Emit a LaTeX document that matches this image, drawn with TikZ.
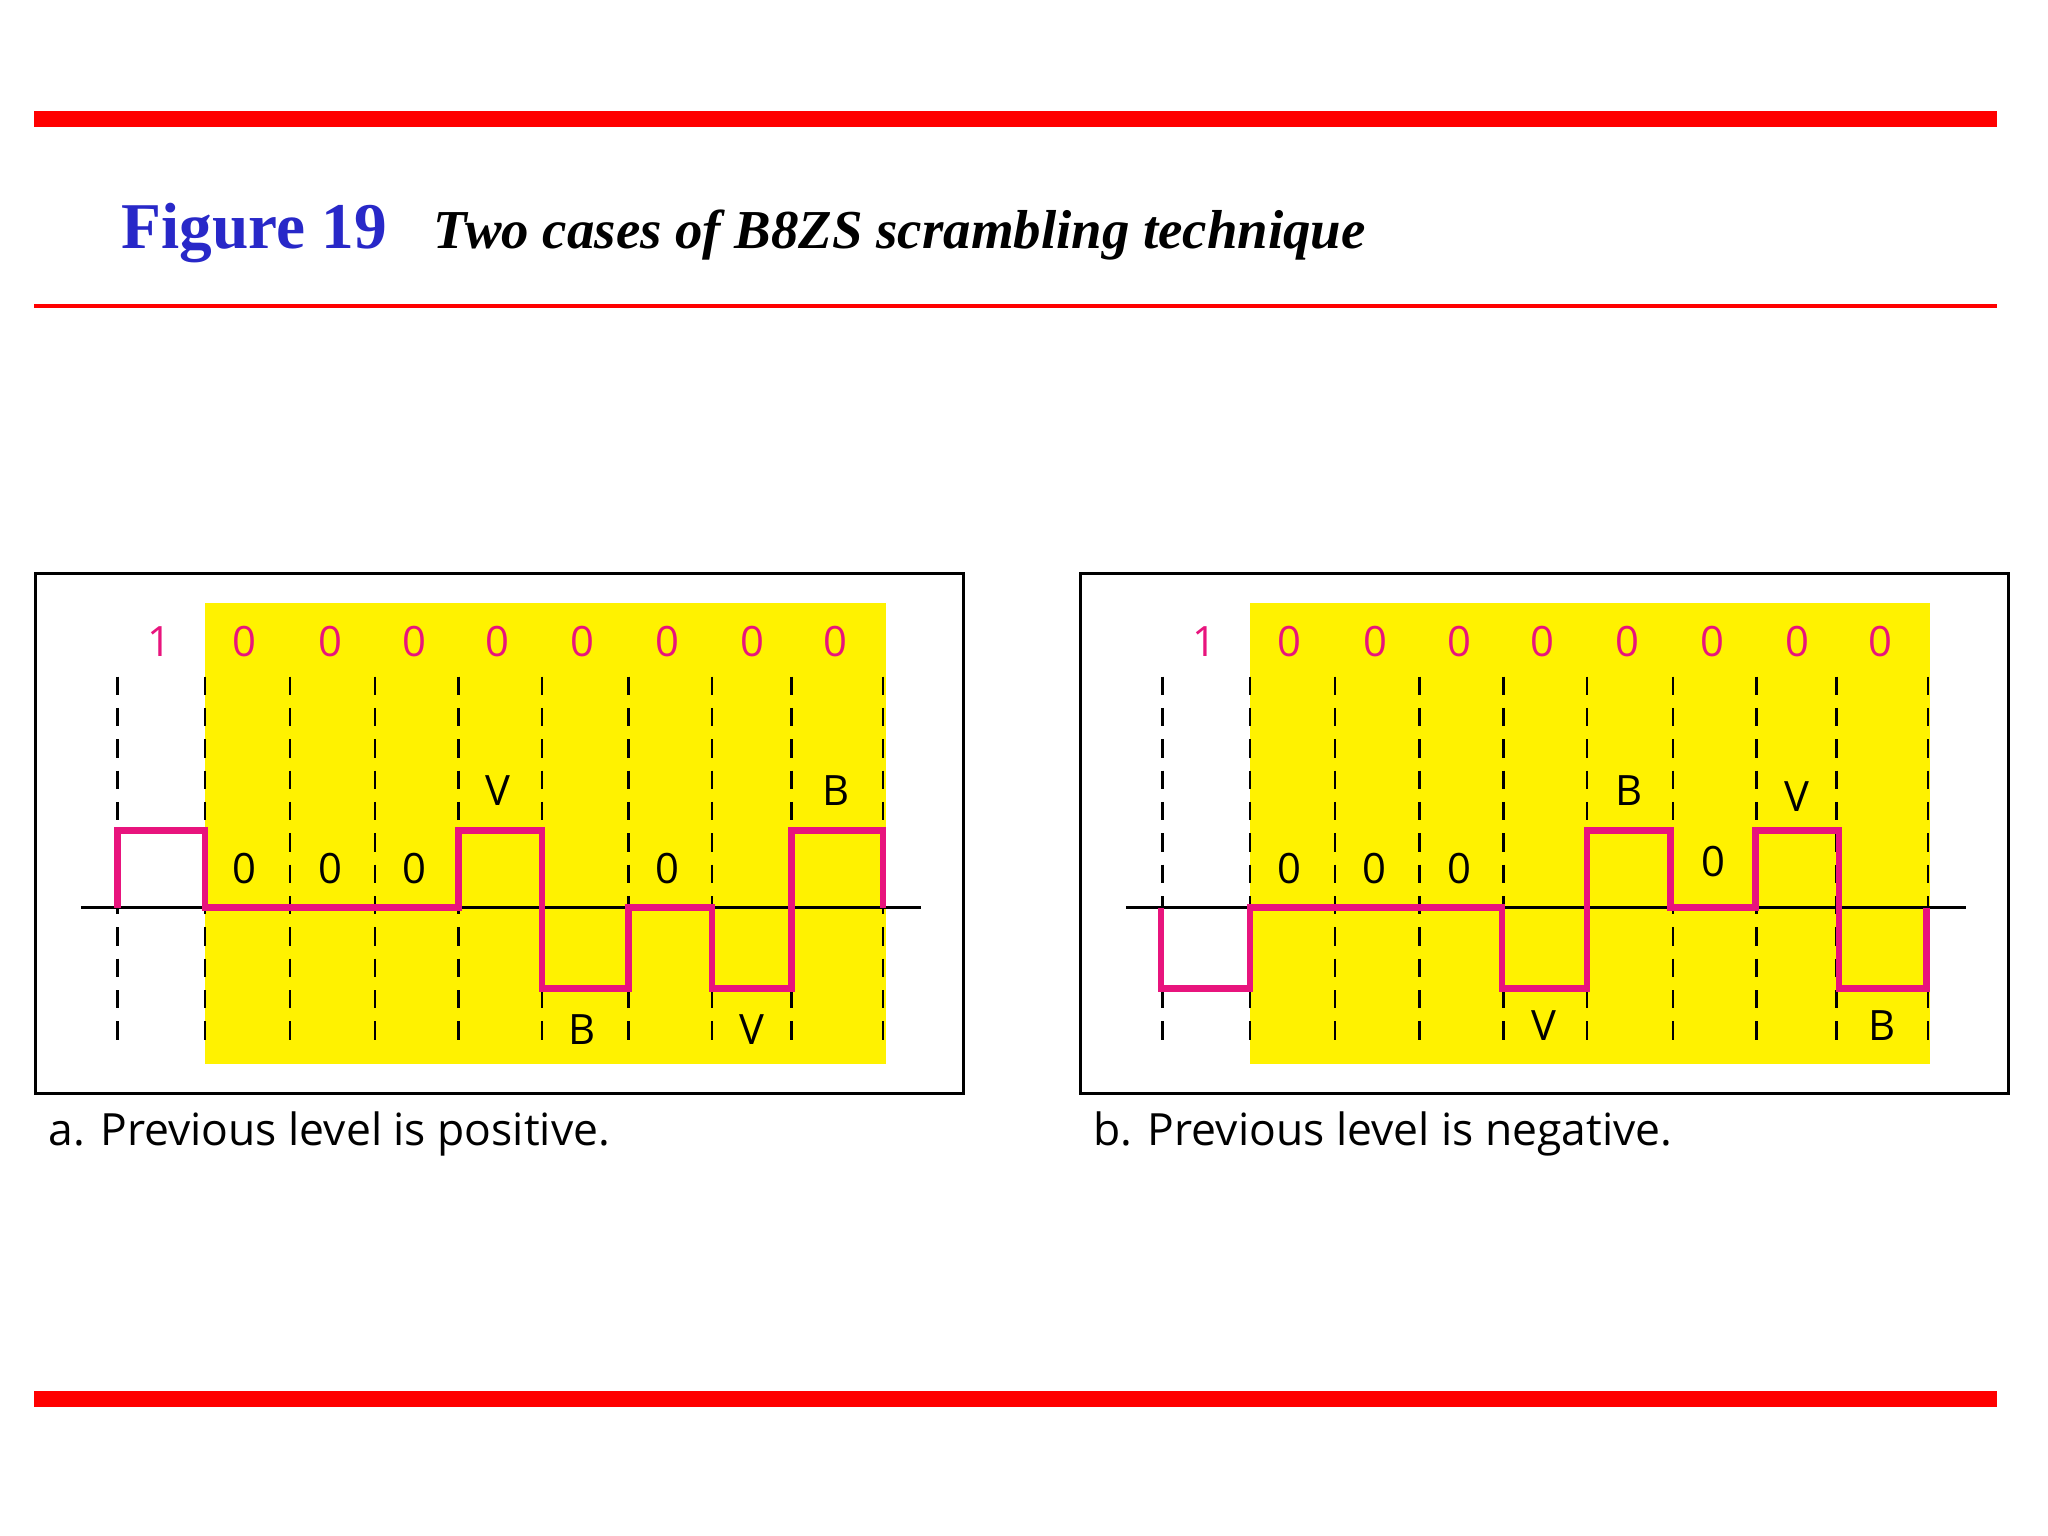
\documentclass[tikz,border=0pt]{standalone}
\usepackage{fontspec}
\setmainfont{Liberation Serif}
\newfontfamily\lab{Open Sans}
\definecolor{pink}{RGB}{232,20,125}
\definecolor{titleblue}{RGB}{40,40,200}
\begin{document}
\begin{tikzpicture}[x=0.5pt,y=-0.5pt,
  digit/.style={font=\lab\fontsize{16}{18}\selectfont},
  sig/.style={pink,line width=2.5pt},
  dl/.style={black,line width=1pt,dash pattern=on 7pt off 5pt}]
\useasboundingbox (0,0) rectangle (1568,1176);
\fill[red] (26,85) rectangle (1529,97);
\fill[red] (26,233) rectangle (1529,236);
\fill[red] (26,1065) rectangle (1529,1077);
\node[anchor=base west,text=titleblue,font=\bfseries\fontsize{25}{30}\selectfont] (t1) at (86,190) {Figure 19};
\node[anchor=base west,font=\bfseries\itshape\fontsize{21}{26}\selectfont] (t2) at (325,190) {Two cases of B8ZS scrambling technique};
\foreach \o/\cap in {0/{a. Previous level is positive.},800/{b. Previous level is negative.}}{
  \begin{scope}[xshift=\o*0.5pt]
  \fill[yellow] (157,462) rectangle (678,815);
  \draw[line width=1.2pt] (27,439) rectangle (738,837);
  \foreach \x in {90,157,222,287,351,415,481,545,606,676}
    \draw[dl] (\x,518) -- (\x,800);
  \draw[line width=1pt] (62,695) -- (705,695);
  \node[digit,text=pink] at (122,491) {1};
  \foreach \x in {187,253,317,381,446,511,576,640}
    \node[digit,text=pink] at (\x,491) {0};
  \node[anchor=base west,font=\lab\fontsize{17}{20}\selectfont] at (30,877) {\cap};
  \end{scope}
}
\draw[sig] (90,695) -- (90,636) -- (157,636) -- (157,695) -- (351,695) -- (351,636) -- (415,636) -- (415,757) -- (481,757) -- (481,695) -- (545,695) -- (545,757) -- (606,757) -- (606,636) -- (676,636) -- (676,695);
\foreach \x/\y/\t in {187/665/0,253/665/0,317/665/0,381/605/V,446/788/B,511/665/0,576/788/V,640/605/B}
  \node[digit] at (\x,\y) {\t};
\draw[sig] (889,695) -- (889,757) -- (957,757) -- (957,695) -- (1150,695) -- (1150,757) -- (1215,757) -- (1215,636) -- (1279,636) -- (1279,695) -- (1344,695) -- (1344,636) -- (1408,636) -- (1408,757) -- (1475,757) -- (1475,695);
\foreach \x/\y/\t in {987/665/0,1052/665/0,1117/665/0,1182/785/V,1247/605/B,1312/660/0,1376/610/V,1441/785/B}
  \node[digit] at (\x,\y) {\t};
\end{tikzpicture}
\end{document}
